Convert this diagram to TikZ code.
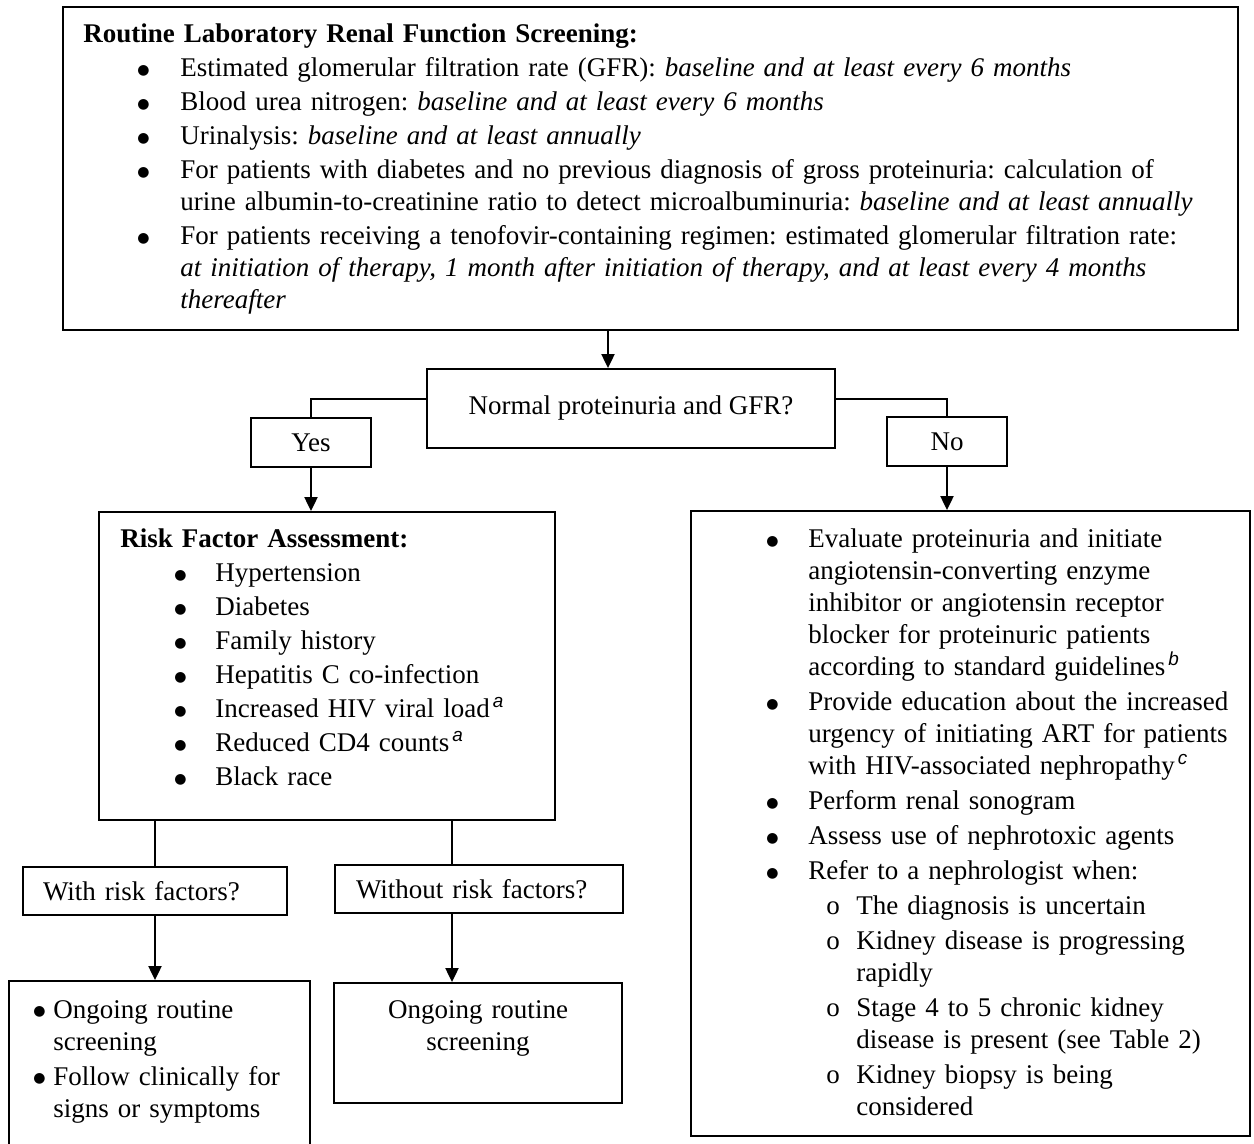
\documentclass[tikz,border=0pt]{standalone}
\usepackage{fontspec}
\setmainfont{Liberation Serif}
\newfontfamily\supfont{Liberation Sans}
\newfontfamily\dotfont{DejaVu Sans}
\usetikzlibrary{arrows.meta}

\newcommand{\nl}{\hfil\break}
\newcommand{\fnote}[1]{\kern1.5pt\textsuperscript{\supfont\itshape #1}}
\newcommand{\bigdot}{\raisebox{1.4pt}{\dotfont\fontsize{7pt}{7pt}\selectfont ●}}
% bullet at #1, text at #2
\newcommand{\bitem}[3]{\noindent\hangindent=#2\hangafter=1\hspace*{#1}\makebox[\dimexpr#2-#1\relax][l]{\bigdot}#3\par}
\newcommand{\oitem}[3]{\noindent\hangindent=#2\hangafter=1\hspace*{#1}\makebox[\dimexpr#2-#1\relax][l]{o}#3\par}

\begin{document}
\frenchspacing
\begin{tikzpicture}[x=0.5pt,y=-0.5pt,
    every node/.style={font=\fontsize{13.5pt}{16pt}\selectfont},
    box/.style={draw, line width=0.9pt, inner sep=0pt},
    txt/.style={anchor=base west, inner sep=0pt, align=left},
    link/.style={line width=1pt},
    arr/.style={link, -{Triangle[length=7pt,width=6.5pt]}}
  ]
  \useasboundingbox (0,0) rectangle (1254,1144);
  \clip (0,0) rectangle (1254,1144);

  % boxes
  \node[box, minimum width=587.5pt, minimum height=161.5pt] (screen) at (650.5,168.5) {};
  \node[box, minimum width=204pt, minimum height=39.5pt] (normal) at (631,408.5) {Normal proteinuria and GFR?};
  \node[box, minimum width=60pt, minimum height=24.5pt] (yes) at (311,442.5) {Yes};
  \node[box, minimum width=60pt, minimum height=24.5pt] (no) at (947,441.5) {No};
  \node[box, minimum width=228pt, minimum height=154pt] (risk) at (327,666) {};
  \node[box, minimum width=279.5pt, minimum height=312.5pt] (refer) at (970.5,823.5) {};
  \node[box, text width=112pt, inner xsep=10pt, minimum height=24pt, align=left] (with) at (155,891) {With risk factors?};
  \node[box, text width=123pt, inner xsep=10.5pt, minimum height=24pt, align=left] (without) at (479,889) {Without risk factors?};
  \node[box, minimum width=150.5pt, minimum height=92pt] (bl) at (159.5,1073) {};
  \node[box, minimum width=144pt, minimum height=60pt] (bm) at (478,1043) {};

  % texts
  \node[txt, text width=580pt] (screentext) at (83,43) {\parskip=1pt
    {\bfseries Routine Laboratory Renal Function Screening:}\par
    \bitem{27pt}{48.5pt}{Estimated glomerular filtration rate (GFR): \textit{baseline and at least every 6 months}}
    \bitem{27pt}{48.5pt}{Blood urea nitrogen: \textit{baseline and at least every 6 months}}
    \bitem{27pt}{48.5pt}{Urinalysis: \textit{baseline and at least annually}}
    \bitem{27pt}{48.5pt}{For patients with diabetes and no previous diagnosis of gross proteinuria: calculation of\nl urine albumin-to-creatinine ratio to detect microalbuminuria: \textit{baseline and at least annually}}
    \bitem{27pt}{48.5pt}{For patients receiving a tenofovir-containing regimen: estimated glomerular filtration rate:\nl \textit{at initiation of therapy, 1 month after initiation of therapy, and at least every 4 months\nl thereafter}}};
  \node[txt, text width=210pt] (risktext) at (120,548) {\parskip=1pt
    {\bfseries Risk Factor Assessment:}\par
    \bitem{27pt}{47.5pt}{Hypertension}
    \bitem{27pt}{47.5pt}{Diabetes}
    \bitem{27pt}{47.5pt}{Family history}
    \bitem{27pt}{47.5pt}{Hepatitis C co-infection}
    \bitem{27pt}{47.5pt}{Increased HIV viral load\fnote{a}}
    \bitem{27pt}{47.5pt}{Reduced CD4 counts\fnote{a}}
    \bitem{27pt}{47.5pt}{Black race}};
  \node[txt, text width=240pt] (refertext) at (766,548) {\parskip=1.5pt
    \bitem{0pt}{21pt}{Evaluate proteinuria and initiate\nl angiotensin-converting enzyme\nl inhibitor or angiotensin receptor\nl blocker for proteinuric patients\nl according to standard guidelines\fnote{b}}
    \bitem{0pt}{21pt}{Provide education about the increased\nl urgency of initiating ART for patients\nl with HIV-associated nephropathy\fnote{c}}
    \bitem{0pt}{21pt}{Perform renal sonogram}
    \bitem{0pt}{21pt}{Assess use of nephrotoxic agents}
    \bitem{0pt}{21pt}{Refer to a nephrologist when:}
    \oitem{30pt}{45pt}{The diagnosis is uncertain}
    \oitem{30pt}{45pt}{Kidney disease is progressing\nl rapidly}
    \oitem{30pt}{45pt}{Stage 4 to 5 chronic kidney\nl disease is present (see Table 2)}
    \oitem{30pt}{45pt}{Kidney biopsy is being\nl considered}};
  \node[txt, text width=140pt] (bltext) at (33,1018) {\parskip=1.5pt
    \bitem{0pt}{10pt}{Ongoing routine\nl screening}
    \bitem{0pt}{10pt}{Follow clinically for\nl signs or symptoms}};
  \node[anchor=base, inner sep=0pt, text width=140pt, align=center] (bmtext) at (478,1018) {Ongoing routine\par screening};

  % connectors
  \coordinate (mainx) at (608,0);
  \coordinate (withoutx) at (452,0);
  \draw[arr] (screen.south -| mainx) -- (normal.north -| mainx);
  \draw[link] ([yshift=4.75pt]normal.west) -| (yes.north);
  \draw[link] ([yshift=4.75pt]normal.east) -| (no.north);
  \draw[arr] (yes.south) -- (risk.north -| yes.south);
  \draw[arr] (no.south) -- (refer.north -| no.south);
  \draw[link] (risk.south -| with.north) -- (with.north);
  \draw[link] (risk.south -| withoutx) -- (without.north -| withoutx);
  \draw[arr] (with.south) -- (bl.north -| with.south);
  \draw[arr] (without.south -| withoutx) -- (bm.north -| withoutx);
\end{tikzpicture}
\end{document}
